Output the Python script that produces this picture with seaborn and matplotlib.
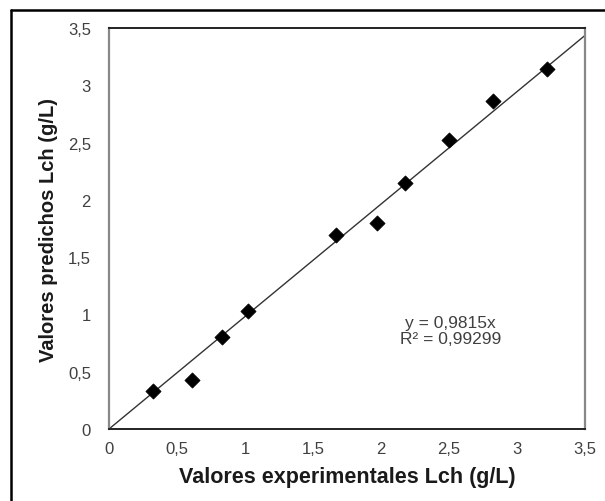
import matplotlib
matplotlib.use("Agg")
import matplotlib.pyplot as plt
import seaborn as sns
import numpy as np
import pandas as pd
from matplotlib.lines import Line2D

# Experimental vs predicted Lch concentrations (g/L)
experimental = [0.32, 0.61, 0.83, 1.02, 1.67, 1.97, 2.18, 2.50, 2.82, 3.22]
predicted = [0.33, 0.43, 0.80, 1.03, 1.69, 1.80, 2.15, 2.52, 2.86, 3.14]
slope = 0.9815
r_squared = 0.99299
tick_values = [0, 0.5, 1, 1.5, 2, 2.5, 3, 3.5]
tick_labels = ["0", "0,5", "1", "1,5", "2", "2,5", "3", "3,5"]

df = pd.DataFrame({"exp": experimental, "pred": predicted})

sns.set_theme(style="white")
plt.rcParams["font.family"] = ["Liberation Sans", "DejaVu Sans"]

fig = plt.figure(figsize=(6.05, 5.02), dpi=100)
ax = fig.add_axes([109 / 605, 1 - 430 / 502, 476 / 605, 401 / 502])

# Trendline through the origin
xs = np.array([0.0, 3.5])
ax.plot(xs, slope * xs, color="#333333", lw=1.0, zorder=2)

sns.scatterplot(data=df, x="exp", y="pred", marker="D", s=60,
                color="black", edgecolor="black", linewidth=0.5,
                ax=ax, zorder=3)

ax.set_xlim(0, 3.5)
ax.set_ylim(0, 3.5)
ax.set_xticks(tick_values)
ax.set_xticklabels(tick_labels)
ax.set_yticks(tick_values)
ax.set_yticklabels(tick_labels)
ax.tick_params(axis="both", length=0, labelsize=12, labelcolor="#404040")
ax.tick_params(axis="x", pad=9)
ax.tick_params(axis="y", pad=13)

ax.set_xlabel("Valores experimentales Lch (g/L)", fontsize=15.5,
              fontweight="bold", color="#1a1a1a", labelpad=7)
ax.set_ylabel("Valores predichos Lch (g/L)", fontsize=14.5,
              fontweight="bold", color="#1a1a1a", labelpad=7)

for side in ["top", "bottom"]:
    ax.spines[side].set_color("#222222")
    ax.spines[side].set_linewidth(1.4)
for side in ["left", "right"]:
    ax.spines[side].set_color("#888888")
    ax.spines[side].set_linewidth(1.6)

ax.text(2.51, 0.86, f"y = {str(slope).replace('.', ',')}x\nR² = {str(r_squared).replace('.', ',')}",
        ha="center", va="center", fontsize=12.5, color="#404040", linespacing=1.1)

# Outer frame around the chart
fig.add_artist(Line2D([10.5 / 605, 10.5 / 605], [0, 1 - 11 / 502],
                      transform=fig.transFigure, color="black", lw=1.8))
fig.add_artist(Line2D([10.5 / 605, 1], [1 - 11 / 502, 1 - 11 / 502],
                      transform=fig.transFigure, color="black", lw=1.8))

fig.savefig("out.png", dpi=100)
